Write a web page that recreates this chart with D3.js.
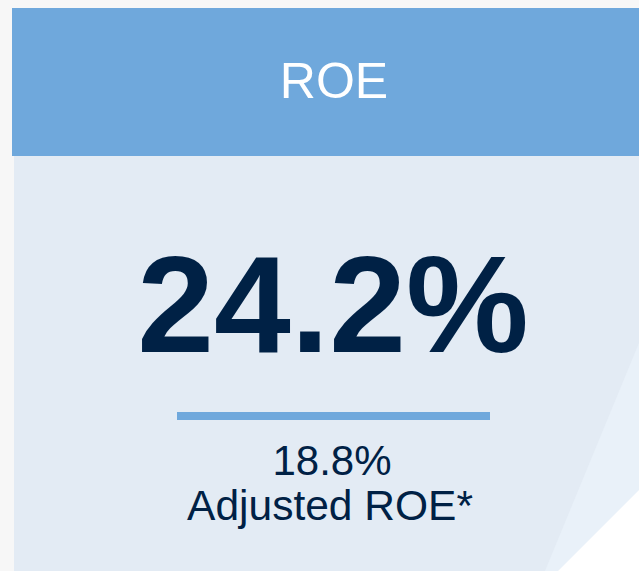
<!DOCTYPE html>
<html>
<head>
<meta charset="utf-8">
<script src="https://cdn.jsdelivr.net/npm/d3@7"></script>
<style>
  html, body { margin: 0; padding: 0; background: #f7f7f7; }
  svg { display: block; }
</style>
</head>
<body>
<div id="card"></div>
<script>
// KPI card values
var titles = ["ROE"];
var mainValues = [24.2];
var subValues = [18.8];
var subLabels = ["Adjusted ROE*"];

var width = 639, height = 571;
var fmt = function(v) { return d3.format(".1f")(v) + "%"; };

var svg = d3.select("#card").append("svg")
    .attr("width", width)
    .attr("height", height);

// panel body
svg.append("rect")
    .attr("x", 14).attr("y", 156)
    .attr("width", width - 14).attr("height", height - 156)
    .attr("fill", "#e3ebf4");

// light stripe at bottom right
svg.append("path")
    .attr("d", "M639,343 L545,571 L558,571 L639,490 Z")
    .attr("fill", "#e9f1f9");
svg.append("path")
    .attr("d", "M639,490 L558,571 L639,571 Z")
    .attr("fill", "#ffffff");

// header
svg.append("rect")
    .attr("x", 12).attr("y", 8)
    .attr("width", width - 12).attr("height", 148)
    .attr("fill", "#6fa8dc");

var cx = 333;
var font = "Liberation Sans, Arial, Helvetica, sans-serif";

svg.append("text")
    .attr("x", cx + 1).attr("y", 98)
    .attr("text-anchor", "middle")
    .attr("font-family", font)
    .attr("font-size", 50)
    .attr("fill", "#ffffff")
    .text(titles[0]);

svg.append("text")
    .attr("x", cx).attr("y", 352)
    .attr("text-anchor", "middle")
    .attr("font-family", font)
    .attr("font-weight", "bold")
    .attr("font-size", 138)
    .attr("fill", "#002145")
    .text(fmt(mainValues[0]));

// separator
svg.append("rect")
    .attr("x", 177).attr("y", 412)
    .attr("width", 313).attr("height", 8)
    .attr("fill", "#6fa8dc");

svg.append("text")
    .attr("x", 332).attr("y", 475)
    .attr("text-anchor", "middle")
    .attr("font-family", font)
    .attr("font-size", 42)
    .attr("fill", "#002145")
    .text(fmt(subValues[0]));

svg.append("text")
    .attr("x", 330).attr("y", 520)
    .attr("text-anchor", "middle")
    .attr("font-family", font)
    .attr("font-size", 42.5)
    .attr("fill", "#002145")
    .text(subLabels[0]);
</script>
</body>
</html>
